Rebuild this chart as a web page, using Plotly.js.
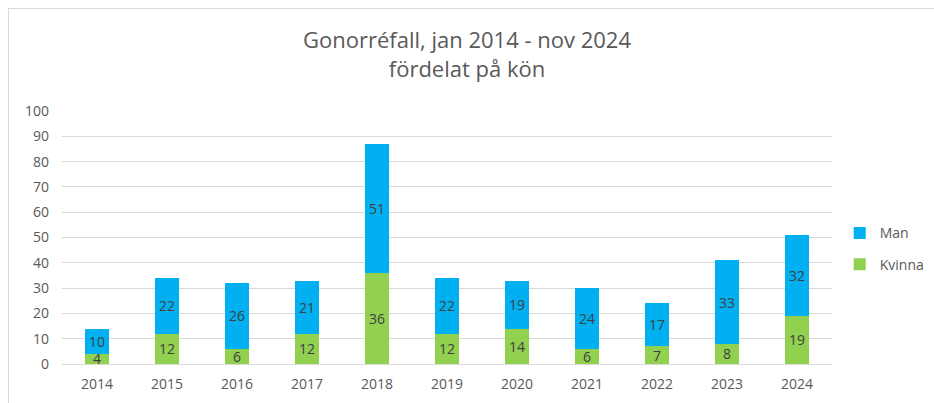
<!DOCTYPE html>
<html>
<head>
<meta charset="utf-8">
<script src="https://cdn.plot.ly/plotly-3.0.1.min.js"></script>
<style>
  html, body { margin: 0; padding: 0; background: #fff; }
  #wrap { position: relative; width: 934px; height: 403px; overflow: hidden; }
  #frame { position: absolute; left: 8px; top: 8px; width: 940px; height: 410px;
           border-left: 1px solid #d9d9d9; border-top: 1px solid #d9d9d9; pointer-events: none; }
  #chart { position: absolute; left: 0; top: 0; width: 934px; height: 403px; }
</style>
</head>
<body>
<div id="wrap">
  <div id="chart"></div>
  <div id="frame"></div>
</div>
<script>
const years = ["2014","2015","2016","2017","2018","2019","2020","2021","2022","2023","2024"];
const kvinna = [4, 12, 6, 12, 36, 12, 14, 6, 7, 8, 19];
const man = [10, 22, 26, 21, 51, 22, 19, 24, 17, 33, 32];

const font = "'Open Sans', sans-serif";

const traces = [
  {
    type: "bar", name: "Kvinna", x: years, y: kvinna, legendgroup: "k", legendrank: 2,
    marker: { color: "#92D050" },
    text: kvinna.map(String), textposition: "inside", insidetextanchor: "middle",
    textangle: 0, textfont: { color: "#404040", size: 14, family: font },
    constraintext: "none", hoverinfo: "x+y+name"
  },
  {
    type: "bar", name: "Man", x: years, y: man, legendgroup: "m", legendrank: 1,
    marker: { color: "#00B0F0" },
    text: man.map(String), textposition: "inside", insidetextanchor: "middle",
    textangle: 0, textfont: { color: "#404040", size: 14, family: font },
    constraintext: "none", hoverinfo: "x+y+name"
  }
];

const layout = {
  width: 934, height: 403,
  paper_bgcolor: "rgba(0,0,0,0)", plot_bgcolor: "rgba(0,0,0,0)",
  barmode: "stack", bargap: 0.66,
  margin: { l: 62, r: 102, t: 111, b: 39, autoexpand: false },
  font: { family: font, color: "#595959" },
  title: {
    text: "Gonorréfall, jan 2014 - nov 2024<br>fördelat på kön",
    font: { family: font, size: 22, color: "#595959" },
    x: 0.5, xref: "container", xanchor: "center",
    y: 0.88, yref: "container", yanchor: "top"
  },
  xaxis: {
    type: "category", showgrid: false, zeroline: false,
    showline: true, linecolor: "#d9d9d9", linewidth: 1,
    ticks: "", tickfont: { size: 14, color: "#595959", family: font },
    ticklabelstandoff: 7
  },
  yaxis: {
    range: [0, 100], dtick: 10, tick0: 0,
    showgrid: true, gridcolor: "#d9d9d9", gridwidth: 1,
    zeroline: false, showline: false, ticks: "",
    tickfont: { size: 14, color: "#595959", family: font },
    ticklabelstandoff: 12
  },
  legend: {
    x: 1.01, xanchor: "left", y: 0.455, yanchor: "middle",
    traceorder: "grouped", tracegroupgap: 10,
    font: { size: 14, color: "#595959", family: font },
    itemwidth: 30, bgcolor: "rgba(0,0,0,0)"
  },
  showlegend: true
};

Plotly.newPlot("chart", traces, layout, { displayModeBar: false, staticPlot: true });
</script>
</body>
</html>
